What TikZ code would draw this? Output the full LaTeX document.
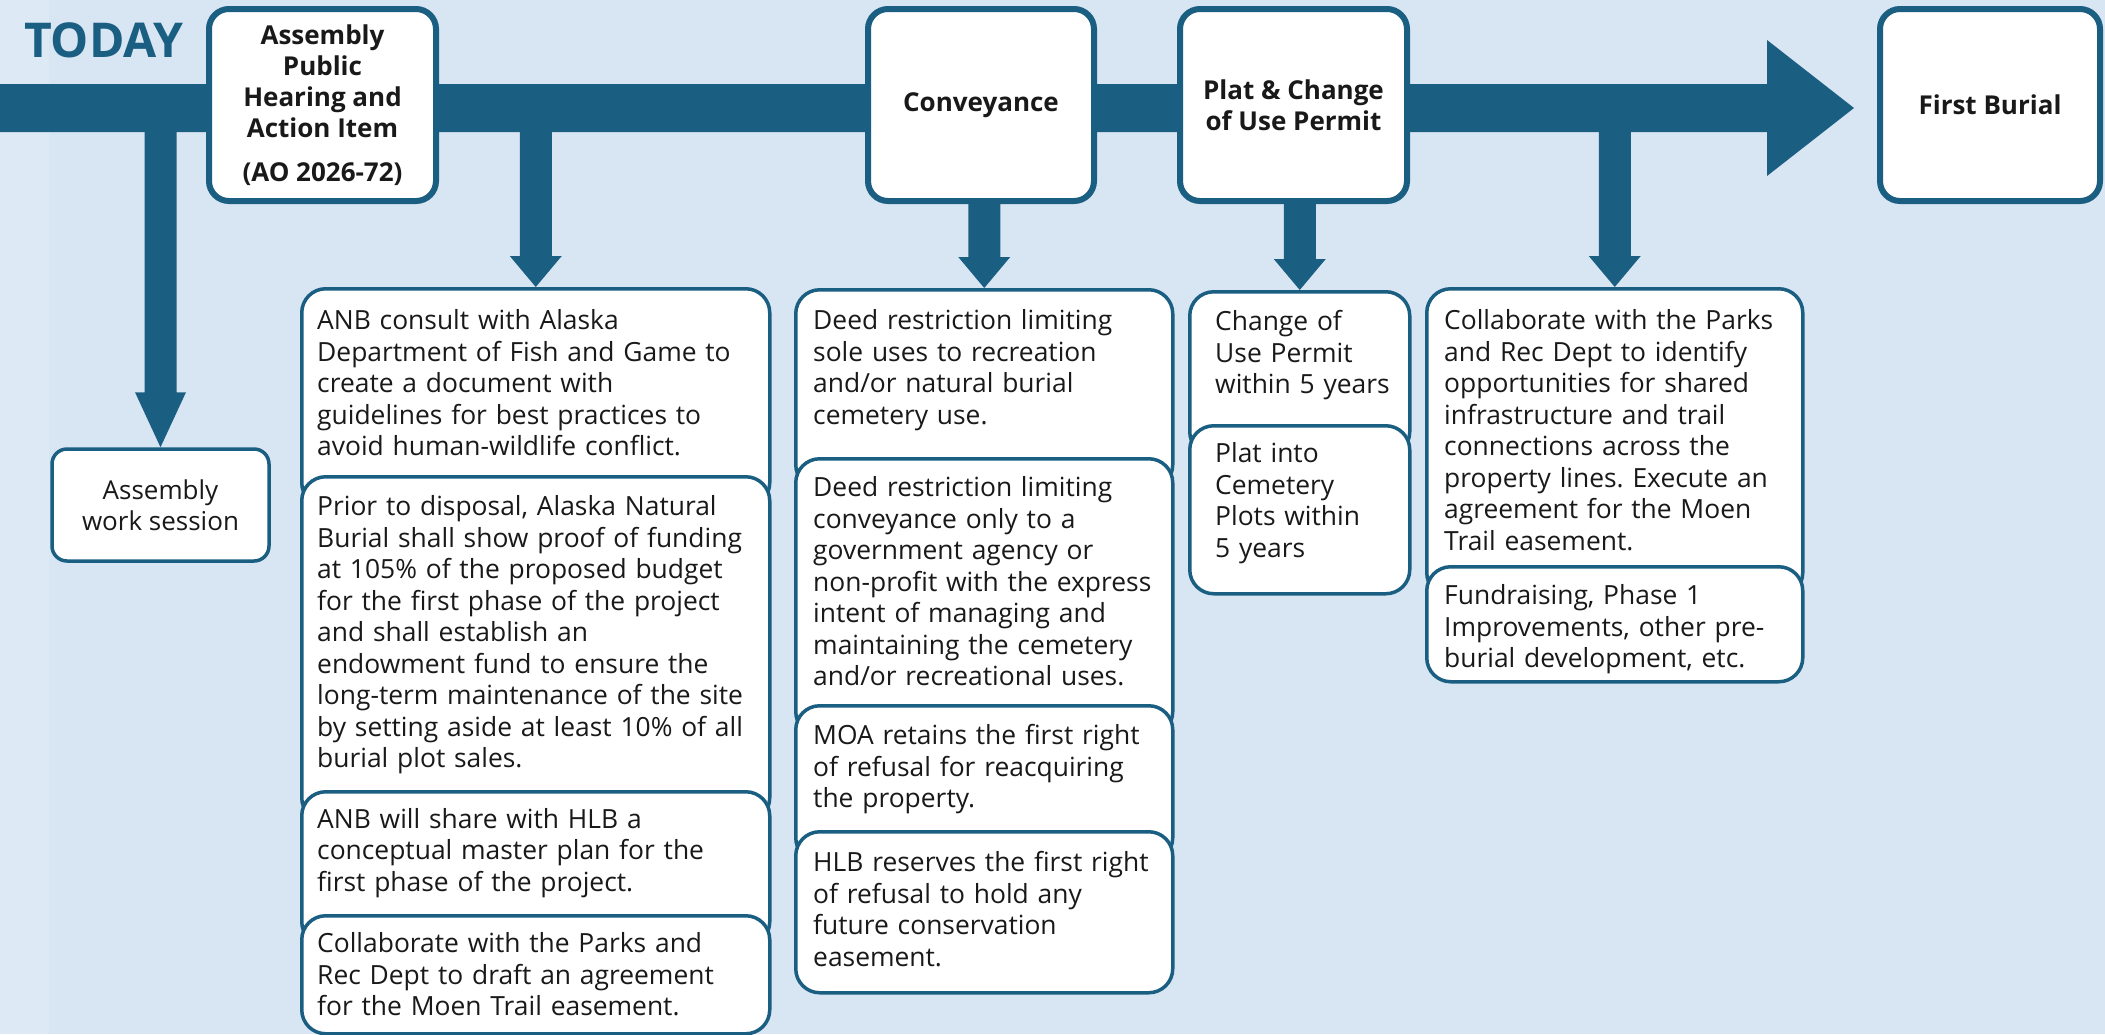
\documentclass[tikz,border=0pt]{standalone}
\usepackage{fontspec}
\setmainfont{Open Sans}
\usetikzlibrary{calc}
\frenchspacing
\definecolor{bgc}{RGB}{216,229,243}
\definecolor{bgl}{RGB}{222,233,246}
\definecolor{bluec}{RGB}{26,95,130}
\definecolor{txtc}{RGB}{25,25,25}
\tikzset{
  hdr/.style={draw=bluec, line width=6pt, fill=white, rounded corners=20pt, inner sep=0pt,
    align=center, text=txtc, font=\bfseries\fontsize{26}{31}\selectfont},
  subbox/.style={draw=bluec, line width=3.5pt, fill=white, rounded corners=24pt, inner sep=0pt},
  body/.style={inner sep=0pt, anchor=base west, align=left, text=txtc,
    font=\fontsize{26.4}{31.5}\selectfont\frenchspacing},
  arr/.style={fill=bluec},
}
\newcommand\dnarr[4]{%
  \fill[arr] ($(#1.north |- barL)+(-#2,0)$) -- ($(#1.north)+(-#2,-#4)$) -- ($(#1.north)+(-#3,-#4)$)
    -- (#1.north) -- ($(#1.north)+(#3,-#4)$) -- ($(#1.north)+(#2,-#4)$) -- ($(#1.north |- barL)+(#2,0)$) -- cycle;}
\begin{document}
\begin{tikzpicture}[x=1pt,y=-1pt]
\useasboundingbox (0,0) rectangle (2105,1034);
\fill[bgc] (0,0) rectangle (2105,1034);
\fill[bgl] (0,0) rectangle (49,1034);

% title
\node[text=bluec, font=\bfseries\fontsize{48}{52}\selectfont, inner sep=0pt] (today) at (104,40) {TODAY};

% main bar
\coordinate (barL) at (0,108);
\coordinate (barT) at (1854,108);
\fill[arr] ($(barL)+(0,-24)$) -- ($(barT)+(-87,-24)$) -- ($(barT)+(-87,-68)$) -- (barT)
  -- ($(barT)+(-87,68)$) -- ($(barT)+(-87,24)$) -- ($(barL)+(0,24)$) -- cycle;

% lower boxes (each upper box runs on behind the next one)
\node[subbox, rounded corners=15pt, minimum width=217pt, minimum height=112pt, align=center, text=txtc,
  font=\fontsize{26}{31}\selectfont] (aws) at (160.5,505) {Assembly\\work session};

\node[subbox, minimum width=468pt, minimum height=218pt, anchor=north west] (anb1) at (300,287) {};
\node[subbox, minimum width=468pt, minimum height=345pt, anchor=north west] (anb2) at (300,475) {};
\node[subbox, minimum width=468pt, minimum height=154pt, anchor=north west] (anb3) at (300,790) {};
\node[subbox, minimum width=468pt, minimum height=118pt, anchor=north west] (anb4) at (300,914) {};

\node[subbox, minimum width=377pt, minimum height=199pt, anchor=north west] (cv1) at (794,288) {};
\node[subbox, minimum width=377pt, minimum height=277pt, anchor=north west] (cv2) at (794,457) {};
\node[subbox, minimum width=377pt, minimum height=156pt, anchor=north west] (cv3) at (794,704) {};
\node[subbox, minimum width=377pt, minimum height=161pt, anchor=north west] (cv4) at (794,830) {};

\node[subbox, minimum width=220pt, minimum height=164pt, anchor=north west] (pl1) at (1188,290) {};
\node[subbox, minimum width=220pt, minimum height=168pt, anchor=north west] (pl2) at (1188,424) {};

\node[subbox, minimum width=376pt, minimum height=308pt, anchor=north west] (co1) at (1425,287) {};
\node[subbox, minimum width=376pt, minimum height=115pt, anchor=north west] (co2) at (1425,565) {};

% body texts
\node[body, text width=445pt] (anb1t) at ($(anb1.north west)+(17,42.5)$) {ANB consult with Alaska\\Department of Fish and Game to\\create a document with\\guidelines for best practices to\\avoid human-wildlife conflict.};
\node[body, text width=445pt] (anb2t) at ($(anb2.north west)+(17,40.5)$) {Prior to disposal, Alaska Natural\\Burial shall show proof of funding\\at 105\% of the proposed budget\\for the first phase of the project\\and shall establish an\\endowment fund to ensure the\\long-term maintenance of the site\\by setting aside at least 10\% of all\\burial plot sales.};
\node[body, text width=445pt] (anb3t) at ($(anb3.north west)+(17,38)$) {ANB will share with HLB a\\conceptual master plan for the\\first phase of the project.};
\node[body, text width=445pt] (anb4t) at ($(anb4.north west)+(17,38.5)$) {Collaborate with the Parks and\\Rec Dept to draft an agreement\\for the Moen Trail easement.};

\node[body, text width=355pt] (cv1t) at ($(cv1.north west)+(19,41.5)$) {Deed restriction limiting\\sole uses to recreation\\and/or natural burial\\cemetery use.};
\node[body, text width=355pt] (cv2t) at ($(cv2.north west)+(19,39.5)$) {Deed restriction limiting\\conveyance only to a\\government agency or\\non-profit with the express\\intent of managing and\\maintaining the cemetery\\and/or recreational uses.};
\node[body, text width=355pt] (cv3t) at ($(cv3.north west)+(19,40.5)$) {MOA retains the first right\\of refusal for reacquiring\\the property.};
\node[body, text width=355pt] (cv4t) at ($(cv4.north west)+(19,41.5)$) {HLB reserves the first right\\of refusal to hold any\\future conservation\\easement.};

\node[body, text width=200pt] (pl1t) at ($(pl1.north west)+(27,40.5)$) {Change of\\Use Permit\\within 5 years};
\node[body, text width=200pt] (pl2t) at ($(pl2.north west)+(27,38.5)$) {Plat into\\Cemetery\\Plots within\\5 years};

\node[body, text width=355pt] (co1t) at ($(co1.north west)+(19,42.5)$) {Collaborate with the Parks\\and Rec Dept to identify\\opportunities for shared\\infrastructure and trail\\connections across the\\property lines. Execute an\\agreement for the Moen\\Trail easement.};
\node[body, text width=355pt] (co2t) at ($(co2.north west)+(19,39.5)$) {Fundraising, Phase 1\\Improvements, other pre-\\burial development, etc.};

% down arrows
\dnarr{aws}{16}{25.5}{55}
\dnarr{anb1}{16}{26}{31}
\dnarr{cv1}{16}{26}{31}
\dnarr{pl1}{16}{26}{31}
\dnarr{co1}{16}{26}{31}

% header boxes
\node[hdr, minimum width=227pt, minimum height=192pt] (hA) at (322.5,105) {Assembly\\Public\\Hearing and\\Action Item\\[13pt](AO 2026-72)};
\node[hdr, minimum width=226pt, minimum height=192pt] (hC) at (981,105) {Conveyance};
\node[hdr, minimum width=227pt, minimum height=192pt] (hP) at (1293.5,105) {Plat \& Change\\of Use Permit};
\node[hdr, minimum width=220pt, minimum height=192pt] (hF) at (1990,105) {First Burial};
\end{tikzpicture}
\end{document}
